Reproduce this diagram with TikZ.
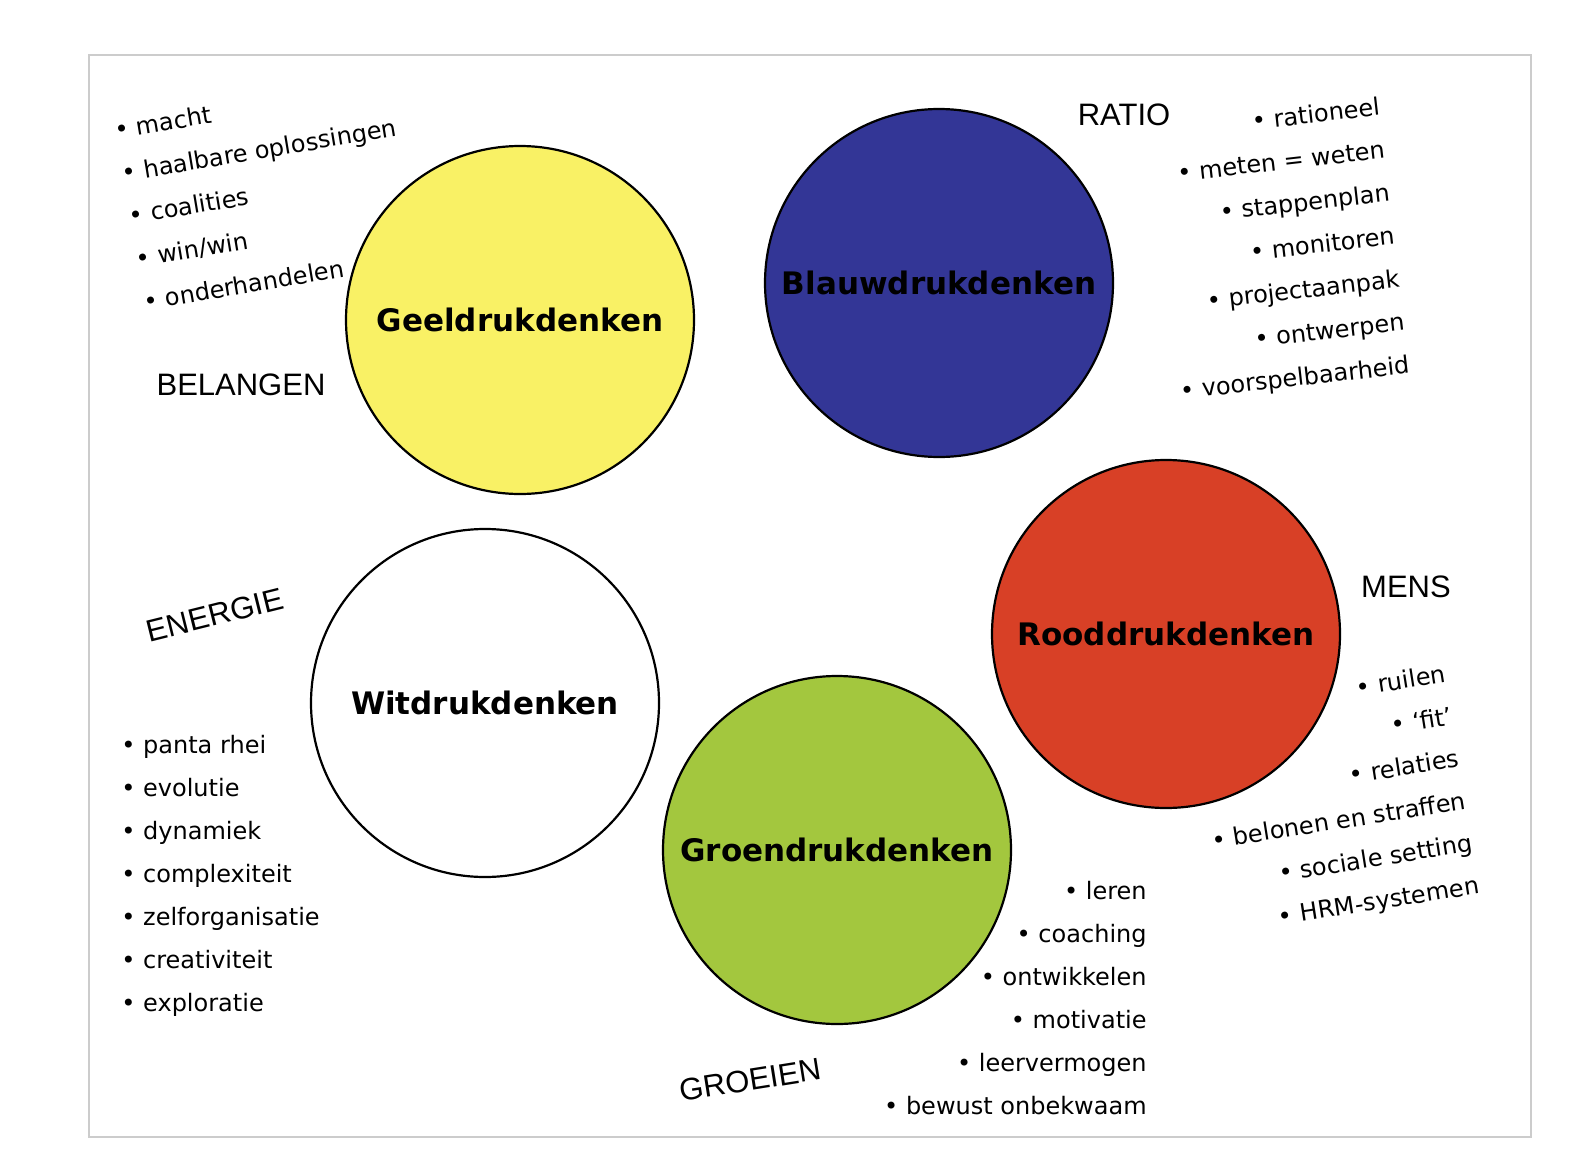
\documentclass[tikz,border=0pt]{standalone}
\usepackage{fontspec}
\setmainfont{DejaVu Sans}
\newfontfamily\themafont{Liberation Sans}
\definecolor{geel}{RGB}{249,241,101}
\definecolor{blauw}{RGB}{51,54,150}
\definecolor{rood}{RGB}{216,64,38}
\definecolor{groen}{RGB}{163,199,62}
\definecolor{kader}{RGB}{204,204,204}
\begin{document}
\begin{tikzpicture}[x=0.5pt,y=-0.5pt,
  kring/.style={circle,draw=black,line width=1.1pt,minimum size=174pt,inner sep=0pt,
    font=\fontsize{15.5}{18}\selectfont\bfseries},
  punt/.style={inner sep=0pt,font=\fontsize{12}{14}\selectfont},
  thema/.style={inner sep=0pt,font=\themafont\fontsize{15.5}{18}\selectfont}]
  \useasboundingbox (0,0) rectangle (1588,1166);
  \draw[kader,line width=1pt] (89,55) rectangle (1531,1137);

  % de vijf kleuren
  \node[kring,fill=geel] (geel) at (520,320) {Geeldrukdenken};
  \node[kring,fill=blauw] (blauw) at (939,283) {Blauwdrukdenken};
  \node[kring,fill=rood] (rood) at (1166,634) {Rooddrukdenken};
  \node[kring,fill=white] (wit) at (485,703) {Witdrukdenken};
  \node[kring,fill=groen] (groen) at (837,850) {Groendrukdenken};

  % thema's
  \node[thema] (belangen) at (241,385) {BELANGEN};
  \node[thema] (ratio) at (1124,115) {RATIO};
  \node[thema] (mens) at (1406,587) {MENS};
  \node[thema,rotate=14] (energie) at (215,615) {ENERGIE};
  \node[thema,rotate=9] (groeien) at (750,1080) {GROEIEN};

  % geel
  \begin{scope}[shift={(116,139)},rotate=9.5,transform shape]
    \node[punt,anchor=base west] (g1) at (0,0) {\textbullet\ macht};
    \node[punt,anchor=base west] (g2) at (0,43.4) {\textbullet\ haalbare oplossingen};
    \node[punt,anchor=base west] (g3) at (0,86.8) {\textbullet\ coalities};
    \node[punt,anchor=base west] (g4) at (0,130.2) {\textbullet\ win/win};
    \node[punt,anchor=base west] (g5) at (0,173.6) {\textbullet\ onderhandelen};
  \end{scope}

  % blauw
  \begin{scope}[shift={(1381,115)},rotate=6.5,transform shape]
    \node[punt,anchor=base east] (b1) at (0,0) {\textbullet\ rationeel};
    \node[punt,anchor=base east] (b2) at (0,43.3) {\textbullet\ meten = weten};
    \node[punt,anchor=base east] (b3) at (0,86.6) {\textbullet\ stappenplan};
    \node[punt,anchor=base east] (b4) at (0,129.9) {\textbullet\ monitoren};
    \node[punt,anchor=base east] (b5) at (0,173.2) {\textbullet\ projectaanpak};
    \node[punt,anchor=base east] (b6) at (0,216.5) {\textbullet\ ontwerpen};
    \node[punt,anchor=base east] (b7) at (0,259.8) {\textbullet\ voorspelbaarheid};
  \end{scope}

  % rood
  \begin{scope}[shift={(1447,682)},rotate=9,transform shape]
    \node[punt,anchor=base east] (r1) at (0,0) {\textbullet\ ruilen};
    \node[punt,anchor=base east] (r2) at (0,42.8) {\textbullet\ `fit'};
    \node[punt,anchor=base east] (r3) at (0,85.6) {\textbullet\ relaties};
    \node[punt,anchor=base east] (r4) at (0,128.4) {\textbullet\ belonen en straffen};
    \node[punt,anchor=base east] (r5) at (0,171.2) {\textbullet\ sociale setting};
    \node[punt,anchor=base east] (r6) at (0,214) {\textbullet\ HRM-systemen};
  \end{scope}

  % wit
  \node[punt,anchor=base west] (w1) at (121,753) {\textbullet\ panta rhei};
  \node[punt,anchor=base west] (w2) at (121,796) {\textbullet\ evolutie};
  \node[punt,anchor=base west] (w3) at (121,839) {\textbullet\ dynamiek};
  \node[punt,anchor=base west] (w4) at (121,882) {\textbullet\ complexiteit};
  \node[punt,anchor=base west] (w5) at (121,925) {\textbullet\ zelforganisatie};
  \node[punt,anchor=base west] (w6) at (121,968) {\textbullet\ creativiteit};
  \node[punt,anchor=base west] (w7) at (121,1011) {\textbullet\ exploratie};

  % groen
  \node[punt,anchor=base east] (gr1) at (1147,899) {\textbullet\ leren};
  \node[punt,anchor=base east] (gr2) at (1147,942) {\textbullet\ coaching};
  \node[punt,anchor=base east] (gr3) at (1147,985) {\textbullet\ ontwikkelen};
  \node[punt,anchor=base east] (gr4) at (1147,1028) {\textbullet\ motivatie};
  \node[punt,anchor=base east] (gr5) at (1147,1071) {\textbullet\ leervermogen};
  \node[punt,anchor=base east] (gr6) at (1147,1114) {\textbullet\ bewust onbekwaam};
\end{tikzpicture}
\end{document}
